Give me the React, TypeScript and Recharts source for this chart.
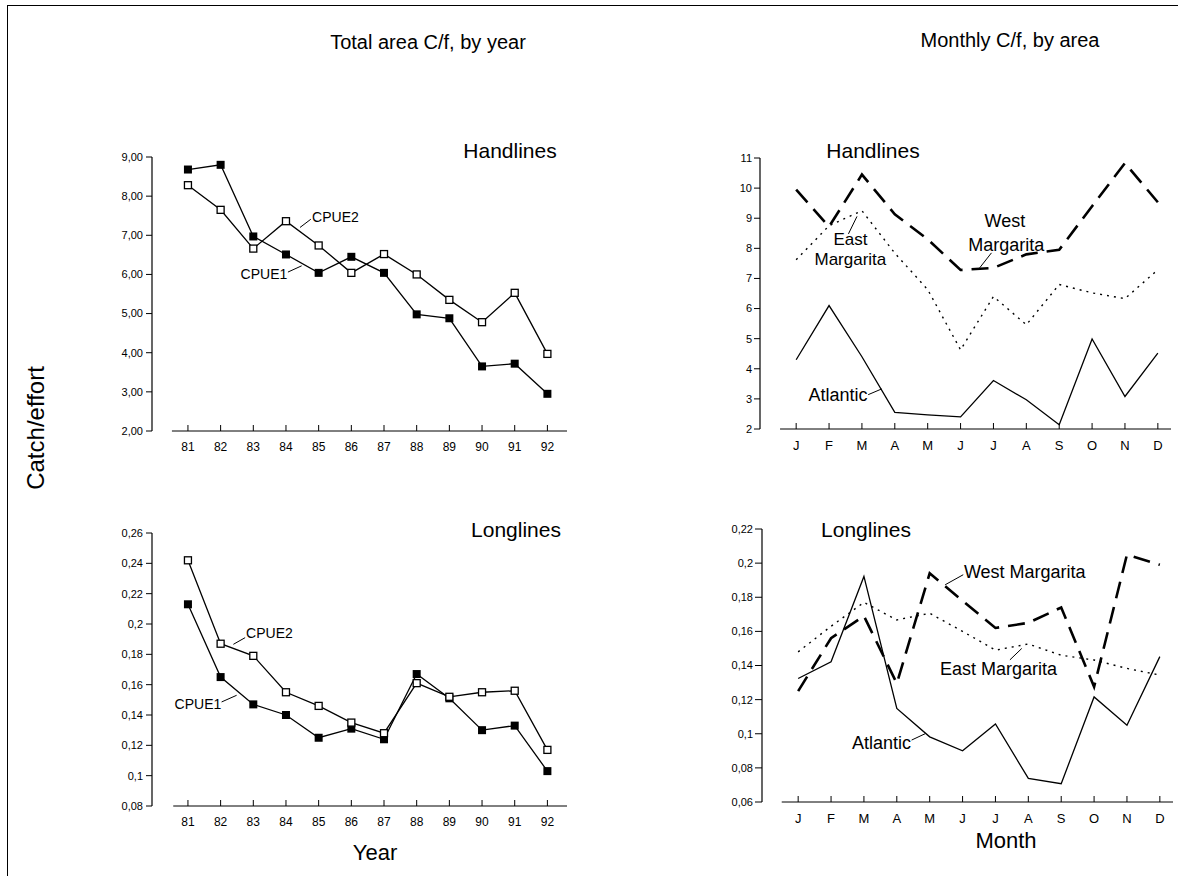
import React from "react"
import { LineChart, Line, XAxis, YAxis, ReferenceLine, ReferenceDot } from "recharts"

const FONT = "'Liberation Sans', Arial, Helvetica, sans-serif"

// yearly catch/effort, total area
const YEARS = [81, 82, 83, 84, 85, 86, 87, 88, 89, 90, 91, 92]
const HAND_CPUE1 = [8.68, 8.8, 6.97, 6.51, 6.04, 6.45, 6.04, 4.98, 4.88, 3.65, 3.72, 2.95]
const HAND_CPUE2 = [8.28, 7.65, 6.66, 7.36, 6.74, 6.04, 6.52, 6.0, 5.35, 4.78, 5.53, 3.97]
const LONG_CPUE1 = [0.213, 0.165, 0.147, 0.14, 0.125, 0.131, 0.124, 0.167, 0.151, 0.13, 0.133, 0.103]
const LONG_CPUE2 = [0.242, 0.187, 0.179, 0.155, 0.146, 0.135, 0.128, 0.161, 0.152, 0.155, 0.156, 0.117]

// monthly catch/effort by area
const MONTHS = [1, 2, 3, 4, 5, 6, 7, 8, 9, 10, 11, 12]
const MONTH_LABELS = ["J", "F", "M", "A", "M", "J", "J", "A", "S", "O", "N", "D"]
const HAND_WEST = [9.95, 8.72, 10.45, 9.13, 8.3, 7.28, 7.35, 7.8, 7.95, 9.4, 10.83, 9.53]
const HAND_EAST = [7.62, 8.75, 9.25, 7.84, 6.63, 4.63, 6.4, 5.46, 6.8, 6.52, 6.33, 7.29]
const HAND_ATL = [4.3, 6.1, 4.4, 2.55, 2.47, 2.4, 3.61, 2.97, 2.14, 4.99, 3.08, 4.52]
const LONG_WEST = [0.125, 0.156, 0.169, 0.1295, 0.194, 0.178, 0.162, 0.165, 0.174, 0.1275, 0.205, 0.199]
const LONG_EAST = [0.148, 0.163, 0.177, 0.1667, 0.1706, 0.16, 0.149, 0.1526, 0.146, 0.1432, 0.1383, 0.1344]
const LONG_ATL = [0.1324, 0.1422, 0.1922, 0.1148, 0.0982, 0.09, 0.1057, 0.0738, 0.0707, 0.1216, 0.105, 0.1452]

const HAND_Y_TICKS = [2, 3, 4, 5, 6, 7, 8, 9]
const LONG_Y_TICKS = [0.08, 0.1, 0.12, 0.14, 0.16, 0.18, 0.2, 0.22, 0.24, 0.26]
const MHAND_Y_TICKS = [2, 3, 4, 5, 6, 7, 8, 9, 10, 11]
const MLONG_Y_TICKS = [0.06, 0.08, 0.1, 0.12, 0.14, 0.16, 0.18, 0.2, 0.22]

const yearData = YEARS.map((year, i) => ({
  year,
  handCpue1: HAND_CPUE1[i],
  handCpue2: HAND_CPUE2[i],
  longCpue1: LONG_CPUE1[i],
  longCpue2: LONG_CPUE2[i],
}))

const monthData = MONTHS.map((month, i) => ({
  month,
  handWest: HAND_WEST[i],
  handEast: HAND_EAST[i],
  handAtl: HAND_ATL[i],
  longWest: LONG_WEST[i],
  longEast: LONG_EAST[i],
  longAtl: LONG_ATL[i],
}))

const comma2 = (v: number) => v.toFixed(2).replace(".", ",")
const commaShort = (v: number) => String(+v.toFixed(2)).replace(".", ",")

const FilledSquare = (props: any) => {
  const { cx, cy, index } = props
  if (cx == null || cy == null) return <g key={index} />
  return <rect key={index} x={cx - 4} y={cy - 4} width={8} height={8} fill="#000" />
}

const HollowSquare = (props: any) => {
  const { cx, cy, index } = props
  if (cx == null || cy == null) return <g key={index} />
  return <rect key={index} x={cx - 3.5} y={cy - 3.5} width={7} height={7} fill="#fff" stroke="#000" strokeWidth={1.3} />
}

const note = (key: string, x: number, y: number, text: string, anchor: string, size: number) => (
  <ReferenceDot
    key={key}
    x={x}
    y={y}
    r={0}
    ifOverflow="visible"
    shape={(p: any) => (
      <text x={p.cx} y={p.cy} textAnchor={anchor} dominantBaseline="central" fontSize={size} fontFamily={FONT} fill="#000">
        {text}
      </text>
    )}
  />
)

const leader = (key: string, x1: number, y1: number, x2: number, y2: number) => (
  <ReferenceLine key={key} segment={[{ x: x1, y: y1 }, { x: x2, y: y2 }]} stroke="#000" strokeWidth={1} ifOverflow="visible" />
)

const yTick = { fontSize: 11, fill: "#000", fontFamily: FONT }
const xTick = { fontSize: 12, fill: "#000", fontFamily: FONT }
const monthTick = { fontSize: 13, fill: "#000", fontFamily: FONT }

function Label({ x, y, text, size }: { x: number; y: number; text: string; size: number }) {
  return (
    <div
      style={{
        position: "absolute",
        left: x,
        top: y,
        transform: "translate(-50%, -50%)",
        fontFamily: FONT,
        fontSize: size,
        lineHeight: 1,
        whiteSpace: "nowrap",
        color: "#000",
      }}
    >
      {text}
    </div>
  )
}

function Box({ left, top, children }: { left: number; top: number; children: React.ReactNode }) {
  return <div style={{ position: "absolute", left, top }}>{children}</div>
}

export default function App() {
  return (
    <div style={{ position: "absolute", left: 0, top: 0, width: 1178, height: 876, background: "#fff", overflow: "hidden" }}>
      <div style={{ position: "absolute", left: 8, top: 5, width: 1170, height: 0, borderTop: "1.5px solid #000" }} />
      <div style={{ position: "absolute", left: 7, top: 5, width: 0, height: 871, borderLeft: "1.5px solid #000" }} />

      <Label x={428} y={42} text="Total area C/f, by year" size={20} />
      <Label x={1010} y={40} text="Monthly C/f, by area" size={20} />
      <div
        style={{
          position: "absolute",
          left: 36,
          top: 428,
          transform: "translate(-50%, -50%) rotate(-90deg)",
          fontFamily: FONT,
          fontSize: 24,
          lineHeight: 1,
          whiteSpace: "nowrap",
        }}
      >
        Catch/effort
      </div>
      <Label x={375} y={853} text="Year" size={22} />
      <Label x={1006} y={841} text="Month" size={22} />

      <Label x={510} y={150} text="Handlines" size={21} />
      <Label x={516} y={529} text="Longlines" size={21} />
      <Label x={873} y={150} text="Handlines" size={21} />
      <Label x={866} y={529} text="Longlines" size={21} />

      {/* Handlines by year */}
      <Box left={60} top={140}>
        <LineChart width={517} height={331} data={yearData} margin={{ top: 17, right: 10, left: 0, bottom: 0 }}>
          <XAxis dataKey="year" type="number" domain={[79.9, 92.6]} ticks={YEARS} interval={0} axisLine={false}
            tickSize={-6} tickMargin={17} tick={xTick} tickLine={{ stroke: "#000" }} height={40} allowDataOverflow />
          <YAxis type="number" domain={[2, 9]} ticks={HAND_Y_TICKS} interval={0} tickFormatter={comma2} width={92}
            tickSize={6} tickMargin={3} tick={yTick} axisLine={{ stroke: "#000", strokeWidth: 1.2 }} tickLine={{ stroke: "#000" }} allowDataOverflow />
          {leader("ax", 80.51, 2, 92.6, 2)}
          <Line type="linear" dataKey="handCpue1" stroke="#000" strokeWidth={1.3} dot={FilledSquare} activeDot={false} isAnimationActive={false} />
          <Line type="linear" dataKey="handCpue2" stroke="#000" strokeWidth={1.3} dot={HollowSquare} activeDot={false} isAnimationActive={false} />
          {leader("l2", 84.43, 7.2, 84.76, 7.41)}
          {note("n2", 84.8, 7.47, "CPUE2", "start", 14)}
          {leader("l1", 84.06, 6.06, 84.48, 6.22)}
          {note("n1", 84.04, 6.01, "CPUE1", "end", 14)}
        </LineChart>
      </Box>

      {/* Longlines by year */}
      <Box left={60} top={520}>
        <LineChart width={517} height={326} data={yearData} margin={{ top: 13, right: 10, left: 0, bottom: 0 }}>
          <XAxis dataKey="year" type="number" domain={[79.9, 92.6]} ticks={YEARS} interval={0} axisLine={false}
            tickSize={-6} tickMargin={17} tick={xTick} tickLine={{ stroke: "#000" }} height={40} allowDataOverflow />
          <YAxis type="number" domain={[0.08, 0.26]} ticks={LONG_Y_TICKS} interval={0} tickFormatter={commaShort} width={92}
            tickSize={6} tickMargin={3} tick={yTick} axisLine={{ stroke: "#000", strokeWidth: 1.2 }} tickLine={{ stroke: "#000" }} allowDataOverflow />
          {leader("ax", 80.55, 0.08, 92.6, 0.08)}
          <Line type="linear" dataKey="longCpue1" stroke="#000" strokeWidth={1.3} dot={FilledSquare} activeDot={false} isAnimationActive={false} />
          <Line type="linear" dataKey="longCpue2" stroke="#000" strokeWidth={1.3} dot={HollowSquare} activeDot={false} isAnimationActive={false} />
          {leader("l2", 82.39, 0.1866, 82.75, 0.191)}
          {note("n2", 82.78, 0.1939, "CPUE2", "start", 14)}
          {leader("l1", 82.03, 0.1486, 82.49, 0.153)}
          {note("n1", 82.02, 0.147, "CPUE1", "end", 14)}
        </LineChart>
      </Box>

      {/* Handlines by month */}
      <Box left={680} top={140}>
        <LineChart width={495} height={329} data={monthData} margin={{ top: 18, right: 4, left: 0, bottom: 0 }}>
          <XAxis dataKey="month" type="number" domain={[-0.1, 12.4]} ticks={MONTHS} interval={0} axisLine={false}
            tickFormatter={(m: number) => MONTH_LABELS[m - 1]} tickSize={-6} tickMargin={18} tick={monthTick}
            tickLine={{ stroke: "#000" }} height={40} allowDataOverflow />
          <YAxis type="number" domain={[2, 11]} ticks={MHAND_Y_TICKS} interval={0} width={80}
            tickSize={6} tickMargin={2} tick={yTick} axisLine={{ stroke: "#000", strokeWidth: 1.2 }} tickLine={{ stroke: "#000" }} allowDataOverflow />
          {leader("ax", 0.51, 2, 12.4, 2)}
          <Line type="linear" dataKey="handAtl" stroke="#000" strokeWidth={1.3} dot={false} activeDot={false} isAnimationActive={false} />
          <Line type="linear" dataKey="handEast" stroke="#000" strokeWidth={1.4} strokeDasharray="2 5" dot={false} activeDot={false} isAnimationActive={false} />
          <Line type="linear" dataKey="handWest" stroke="#000" strokeWidth={2.6} strokeDasharray="17 9" dot={false} activeDot={false} isAnimationActive={false} />
          {leader("le", 2.59, 8.48, 2.85, 9.06)}
          {note("ne1", 2.65, 8.28, "East", "middle", 17)}
          {note("ne2", 2.65, 7.64, "Margarita", "middle", 17)}
          {leader("lw", 6.94, 7.85, 6.58, 7.35)}
          {note("nw1", 7.35, 8.92, "West", "middle", 18)}
          {note("nw2", 7.39, 8.12, "Margarita", "middle", 18)}
          {leader("la", 3.19, 3.14, 3.6, 3.33)}
          {note("na", 3.17, 3.12, "Atlantic", "end", 18)}
        </LineChart>
      </Box>

      {/* Longlines by month */}
      <Box left={680} top={520}>
        <LineChart width={497} height={322} data={monthData} margin={{ top: 9, right: 4, left: 0, bottom: 0 }}>
          <XAxis dataKey="month" type="number" domain={[-0.1, 12.4]} ticks={MONTHS} interval={0} axisLine={false}
            tickFormatter={(m: number) => MONTH_LABELS[m - 1]} tickSize={-6} tickMargin={18} tick={monthTick}
            tickLine={{ stroke: "#000" }} height={40} allowDataOverflow />
          <YAxis type="number" domain={[0.06, 0.22]} ticks={MLONG_Y_TICKS} interval={0} tickFormatter={commaShort} width={82}
            tickSize={7} tickMargin={2} tick={yTick} axisLine={{ stroke: "#000", strokeWidth: 1.2 }} tickLine={{ stroke: "#000" }} allowDataOverflow />
          {leader("ax", 0.5, 0.06, 12.4, 0.06)}
          <Line type="linear" dataKey="longAtl" stroke="#000" strokeWidth={1.3} dot={false} activeDot={false} isAnimationActive={false} />
          <Line type="linear" dataKey="longEast" stroke="#000" strokeWidth={1.4} strokeDasharray="2 5" dot={false} activeDot={false} isAnimationActive={false} />
          <Line type="linear" dataKey="longWest" stroke="#000" strokeWidth={2.6} strokeDasharray="17 9" dot={false} activeDot={false} isAnimationActive={false} />
          {leader("lw", 6.02, 0.1932, 5.47, 0.1873)}
          {note("nw", 6.04, 0.1946, "West Margarita", "start", 18)}
          {leader("le", 7.44, 0.1433, 7.8, 0.15)}
          {note("ne", 5.31, 0.138, "East Margarita", "start", 18)}
          {leader("la", 4.45, 0.0963, 4.86, 0.1)}
          {note("na", 4.43, 0.0948, "Atlantic", "end", 18)}
        </LineChart>
      </Box>
    </div>
  )
}
